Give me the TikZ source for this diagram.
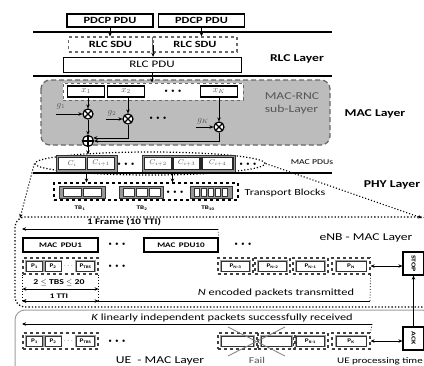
\documentclass[tikz,border=0pt]{standalone}
\usepackage{fontspec}
\setmainfont{Carlito}[FakeStretch=1.3]
\usepackage{tikz}
\usetikzlibrary{arrows.meta,positioning,shapes.geometric}
\definecolor{rncgray}{RGB}{188,188,188}
\definecolor{rncedge}{RGB}{105,105,105}
\definecolor{grpgray}{RGB}{150,150,150}
\definecolor{halogray}{RGB}{160,160,160}
\definecolor{txgray}{RGB}{85,85,85}
\newcommand{\fsz}[1]{\fontsize{#1}{#1}\selectfont}
\newcommand{\bdots}{$\bullet\hspace{1.5pt}\bullet\hspace{1.5pt}\bullet$}

\begin{document}
\begin{tikzpicture}[x=1pt,y=-1pt,>={Stealth[length=4pt,width=3.5pt]},
  every node/.style={inner sep=0pt},
  pdcp/.style={draw,line width=1.5pt,fill=white,minimum width=86pt,minimum height=13pt,font=\bfseries\fsz{9.5}},
  sdu/.style={draw=rncedge,dashed,line width=1.1pt,minimum width=84pt,minimum height=15pt,font=\bfseries\fsz{9.5}},
  pdubox/.style={draw,thin,fill=white,minimum width=178pt,minimum height=15pt,font=\fsz{10}},
  lay/.style={font=\bfseries\fsz{10.5}},
  xbox/.style={draw,line width=1.3pt,fill=white,minimum width=37pt,minimum height=11pt,font=\fsz{9}\color{txgray}},
  mult/.style={circle,draw,line width=1.2pt,fill=white,minimum size=10pt,
    path picture={\draw[line width=1.2pt] (path picture bounding box.north west) -- (path picture bounding box.south east)
      (path picture bounding box.north east) -- (path picture bounding box.south west);}},
  adder/.style={circle,draw,line width=1.2pt,fill=white,minimum size=11pt,
    path picture={\draw[line width=1.2pt] (path picture bounding box.north) -- (path picture bounding box.south)
      (path picture bounding box.east) -- (path picture bounding box.west);}},
  glab/.style={font=\fsz{9}\color{txgray}},
  grp/.style={draw=black!80,line width=1pt,fill=grpgray,minimum height=17pt},
  cbox/.style={draw=black!85,line width=1.1pt,fill=white,minimum height=12pt,font=\fsz{7}\color{txgray}},
  cell/.style={draw=black!80,line width=0.8pt,fill=white,minimum height=8pt},
  pkt/.style={draw=black!80,line width=0.6pt,fill=white,minimum height=10pt,font=\bfseries\fsz{5.5},
    preaction={draw=halogray,line width=2.4pt}},
  pfr/.style={draw=black!75,dashed,line width=1.2pt,minimum height=16pt},
  ctl/.style={draw,line width=1.2pt,fill=white,minimum width=21pt,minimum height=23pt,font=\bfseries\fsz{6}},
  dots/.style={font=\fsz{5}}]
  \useasboundingbox (0,0) rectangle (424,365);
  % eNB and UE frames
  \draw[dotted,line width=1.3pt,rounded corners=10pt] (15,217) rectangle (432,307);
  \draw[gray!75,line width=1pt,rounded corners=10pt] (15,310) rectangle (432,390);
  % Layer separators
  \draw[line width=1.1pt] (33,32) -- (332,32);
  \draw[line width=1.1pt] (33,76) -- (332,76);
  % PDCP and RLC
  \node[pdcp] (pdcp1) at (110,20.5) {PDCP PDU};
  \node[pdcp] (pdcp2) at (201.5,20.5) {PDCP PDU};
  \node[sdu] (sdu1) at (110.5,44.5) {RLC SDU};
  \node[sdu] (sdu2) at (195,44.5) {RLC SDU};
  \node[pdubox] (rlcpdu) at (152,64.5) {RLC PDU};
  \draw[->,thick] (pdcp1) -- (pdcp1.south |- sdu1.north);
  \draw[->,thick] (pdcp2) -- (pdcp2.south |- sdu2.north);
  \draw[->,thick] (sdu1.east) -- (sdu1.east |- rlcpdu.north);
  \node[lay] (rlclay) at (297,59) {RLC Layer};
  % MAC-RNC sub-layer
  \draw[rncedge,line width=1.3pt,dash pattern=on 5pt off 3pt,fill=rncgray,rounded corners=9pt] (41,80) rectangle (330,145);
  \node[draw=rncedge,dashed,line width=1pt,fill=white,minimum width=180pt,minimum height=17pt] (xrow) at (153,91.5) {};
  \draw[->,thick] (rlcpdu) -- (rlcpdu.south |- xrow.north);
  \foreach \n/\x/\lab in {x1/86/x_1,x2/126/x_2,xK/219/x_K}
    \node[xbox] (\n) at (\x,91.5) {$\lab$};
  \node[dots] (xdots) at (173,91.5) {\bdots};
  \node[mult] (m1) at (88,114) {};
  \node[mult] (m2) at (128,119) {};
  \node[mult] (mK) at (219,127) {};
  \node[dots] (mdots) at (158,118) {\bdots};
  \draw[->,thick] (m1 |- x1.south) -- (m1);
  \draw[->,thick] (m2 |- x2.south) -- (m2);
  \draw[->,thick] (xK) -- (mK);
  % Coefficients
  \node[glab] (g1) at (61,106) {$g_1$};
  \node[glab] (g2) at (112,113) {$g_2$};
  \node[glab] (gK) at (203,121) {$g_K$};
  \coordinate (g1in) at (56,114);
  \coordinate (g2in) at (106,119);
  \coordinate (gKin) at (196,127);
  \draw[->,thick] (g1in) -- (m1);
  \draw[->,thick] (g2in) -- (m2);
  \draw[->,thick] (gKin) -- (mK);
  \node[adder] (add) at (88,141) {};
  \draw[->,thick] (m1) -- (add);
  \draw[->,thick] (m2.south) |- (add.30);
  \draw[->,thick] (mK.south) |- (add.east);
  \node[font=\fsz{10.5},text=txgray,align=left] (rnclab) at (292,103.5) {MAC-RNC\\[2pt]sub-Layer};
  \node[lay] (maclay) at (375,114) {MAC Layer};
  % MAC PDUs
  \node[ellipse,draw,dotted,line width=1.2pt,minimum width=230pt,minimum height=23pt] (pdus) at (150,163.5) {};
  \node[grp,minimum width=61pt] (grp1) at (86.5,163.5) {};
  \node[grp,minimum width=93pt] (grp2) at (188.5,163.5) {};
  \foreach \n/\x/\w/\lab in {c0/72/27pt/C_i,c1/101/27pt/C_{i+1},c2/158/27pt/C_{i+2},c3/186.5/27pt/C_{i+3},c4/217.5/31pt/C_{i+4}}
    \node[cbox,minimum width=\w] (\n) at (\x,163.5) {$\lab$};
  \node[dots] (cdots1) at (126,164) {\bdots};
  \node[dots] (cdots2) at (248,164) {\bdots};
  \draw[->,thick] (add) -- (add |- grp1.north);
  \node[font=\fsz{7.5}] (pduslab) at (312,162) {MAC PDUs};
  \draw[line width=1.1pt] (33,173) -- (332,173);
  % Transport blocks
  \node[draw,dashed,line width=1.1pt,minimum width=184pt,minimum height=17pt] (tbs) at (146,191.5) {};
  \draw[->,thick] (grp1.south) -- (grp1.south |- tbs.north);
  \draw[->,thick] (grp2.south -| c3.west) -- (c3.west |- tbs.north);
  \node[grp,minimum width=46pt,minimum height=12pt,line width=0.8pt] (tb1) at (82,192) {};
  \node[grp,minimum width=44pt,minimum height=12pt,line width=0.8pt] (tb2) at (141,192) {};
  \node[grp,minimum width=42pt,minimum height=12pt,line width=0.8pt] (tb10) at (211,192) {};
  \foreach \k in {0,1}
    \node[cell,minimum width=18pt] (tb1c\k) at (72+20*\k,192) {};
  \foreach \k in {0,1,2}
    \node[cell,minimum width=11pt] (tb2c\k) at (128.5+13*\k,192) {};
  \foreach \k in {0,...,4}
    \node[cell,minimum width=5.5pt] (tb10c\k) at (197+7*\k,192) {};
  \node[dots] (tbdots) at (175,192) {\bdots};
  \node[font=\bfseries\fsz{5.5}] (tb1lab) at (80,208) {TB\textsubscript{1}};
  \node[font=\bfseries\fsz{5.5}] (tb2lab) at (142,208) {TB\textsubscript{2}};
  \node[font=\bfseries\fsz{5.5}] (tb10lab) at (208,208) {TB\textsubscript{10}};
  \node[font=\fsz{9.3}] (tbslab) at (285,193) {Transport Blocks};
  \node[lay] (phylay) at (392,185) {PHY Layer};
  % Zoom into eNB
  \coordinate (enbL) at (20,218);
  \coordinate (enbR) at (422,218);
  \draw[->,dotted,line width=1.1pt] (pdus.west) -- (enbL);
  \draw[->,dotted,line width=1.1pt] (pdus.east) -- (enbR);
  % eNB - MAC layer
  \node[font=\bfseries\fsz{8.5}] (frm) at (124,222) {1 Frame (10 TTI)};
  \node[font=\fsz{10.5}] (enblay) at (366,238) {eNB - MAC Layer};
  \node[draw,line width=1.2pt,minimum width=75pt,minimum height=14pt,font=\bfseries\fsz{7}] (pdu1) at (60.5,245) {MAC\enspace PDU1};
  \node[draw,line width=1.2pt,minimum width=74pt,minimum height=14pt,font=\bfseries\fsz{7}] (pdu10) at (181,245) {MAC\enspace PDU10};
  \node[dots] (pdudots1) at (117,244) {\bdots};
  \node[dots] (pdudots2) at (243,244) {\bdots};
  \coordinate (frmL) at (22,229);
  \coordinate (frmR) at (218,229);
  \draw[<-,thick] (frmL) -- (frmR);
  \draw[dotted,thick] (frmR) -- (pdu10.north east);
  % Packet rows (eNB and UE)
  \foreach \r/\y in {e/266,u/341} {
    \node[pfr,minimum width=75pt] (\r fr) at (60.5,\y) {};
    \node[pkt,minimum width=16pt] (\r p1) at (34.5,\y) {P\textsubscript{1}};
    \node[pkt,minimum width=16pt] (\r p2) at (53,\y) {P\textsubscript{2}};
    \node[font=\bfseries\fsz{6}] (\r pdots) at (68.5,\y) {$\cdots$};
    \node[pkt,minimum width=18pt] (\r ptbs) at (85.5,\y) {P\textsubscript{TBS}};
    \node[dots] (\r rowdots) at (117,\y) {\bdots};
  }
  \foreach \n/\x/\w/\iw/\lab in {n3/235.5/35pt/28pt/N-3,n2/272.5/35pt/28pt/N-2,n1/310.5/35pt/28pt/N-1,n0/351/38pt/30pt/N} {
    \node[pfr,minimum width=\w] (f\n) at (\x,266) {};
    \node[pkt,minimum width=\iw] (p\n) at (\x,266) {P\textsubscript{\lab}};
  }
  \node[ctl] (stop) at (413.5,263.5) {\rotatebox{-90}{STOP}};
  \node[ctl] (ack) at (413.5,338.5) {\rotatebox{-90}{ACK}};
  \draw[<->,thick] (fn0.east) -- (stop.west |- fn0.east);
  \draw[->,thick] (ack) -- (stop);
  % TBS and TTI spans
  \draw[dotted,thick] (efr.south west) -- ++(0,28);
  \draw[dotted,thick] (efr.south east) -- ++(0,28);
  \node[font=\bfseries\fsz{7.5}] (tbsrange) at (59,283) {2 $\leq$ TBS $\leq$ 20};
  \draw[<->,thick] (efr.west |- 0,289) -- (efr.east |- 0,289);
  \node[font=\bfseries\fsz{7}] (tti) at (59,296) {1 TTI};
  \draw[<->,thick] (efr.west |- 0,301) -- (efr.east |- 0,301);
  \node[font=\fsz{9.5}] (nlab) at (276,293) {\textit{N} encoded packets transmitted};
  \coordinate (nL) at (22,301);
  \coordinate (nR) at (370,301);
  \draw[<-,thick] (nL) -- (nR);
  \draw[dotted,thick] (nR) -- (fn0.south east);
  % UE - MAC layer
  \node[font=\fsz{9.5}] (klab) at (222,318) {\textit{K} linearly independent packets successfully received};
  \coordinate (kL) at (22,324);
  \coordinate (kR) at (372,324);
  \foreach \n/\x/\w/\iw/\lab in {k1/310.5/35pt/28pt/K-1,k0/351/38pt/30pt/K} {
    \node[pfr,minimum width=\w] (f\n) at (\x,341) {};
    \node[pkt,minimum width=\iw] (p\n) at (\x,341) {P\textsubscript{\lab}};
  }
  \draw[<-,thick] (kL) -- (kR);
  \draw[dotted,thick] (kR) -- (fk0.north east);
  % Lost packets
  \node[pfr,minimum width=39pt] (ff1) at (237.5,341) {};
  \node[pkt,minimum width=32pt] (fp1) at (237.5,341) {};
  \node[pfr,minimum width=37pt] (ff2) at (276.5,341) {};
  \node[pkt,minimum width=30pt] (fp2) at (276.5,341) {};
  \draw[gray,thick] (228,327) -- (285,356);
  \draw[gray,thick] (285,327) -- (228,356);
  \node[font=\fsz{9},text=txgray] (fail) at (257,360) {Fail};
  \draw[<->,thick] (fk0.east) -- (ack.west |- fk0.east);
  \node[font=\fsz{10.5}] (uelay) at (160,361) {UE\ \ - MAC Layer};
  \node[font=\fsz{8.5},anchor=east] (uetime) at (423,361) {UE processing time};
\end{tikzpicture}
\end{document}
